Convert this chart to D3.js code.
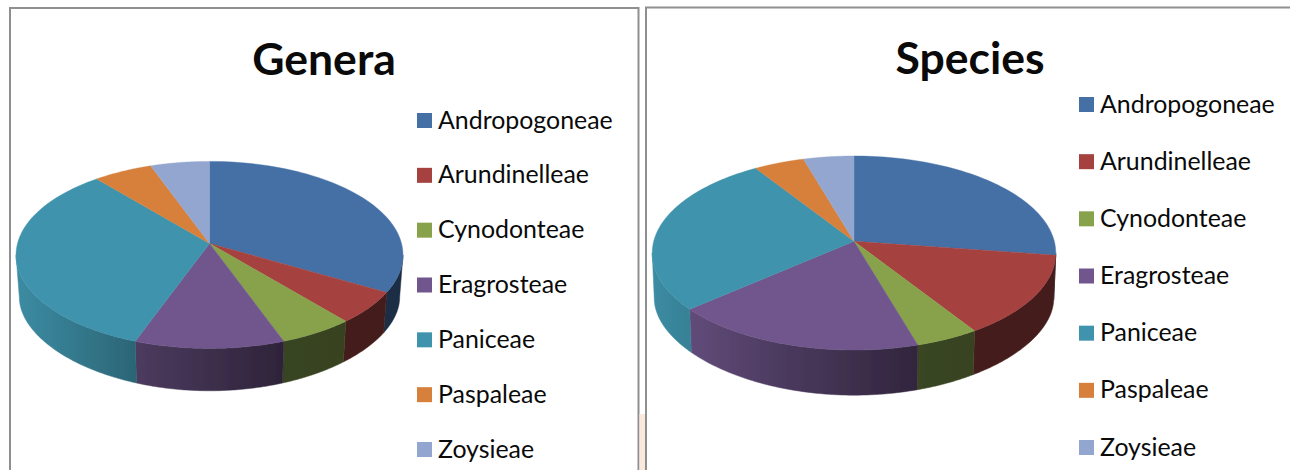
<!DOCTYPE html>
<html>
<head>
<meta charset="UTF-8">
<script src="https://d3js.org/d3.v7.min.js"></script>
<style>
    html, body { margin: 0; padding: 0; background: white; overflow: hidden; }
    svg { display: block; }
    text { font-family: Lato, "Open Sans", sans-serif; fill: #0a0a0a; }
</style>
</head>
<body>
<svg id="viz" width="1290" height="470"></svg>
<script>
    const tribes = ["Andropogoneae", "Arundinelleae", "Cynodonteae", "Eragrosteae", "Paniceae", "Paspaleae", "Zoysieae"];
    const genera = [6, 1, 1, 2, 6, 1, 1];
    const species = [6, 3, 1, 4, 6, 1, 1];
    const colors = ["#4470a6", "#a5423f", "#87a24b", "#70568c", "#3f93ac", "#d6803b", "#92a6cf"];

    const svg = d3.select("#viz");
    const defs = svg.append("defs");

    defs.append("filter").attr("id", "soft")
        .append("feGaussianBlur").attr("stdDeviation", 0.5);

    // side lighting goes from light on the left to dark on the right
    const shade = d3.scaleLinear().domain([0, 0.35, 0.68, 1]).range([0.95, 0.65, 0.42, 0.41]);

    function darker(col, f) {
        const c = d3.rgb(col);
        return d3.rgb(c.r * f, c.g * f, c.b * f).formatHex();
    }

    // frames
    svg.append("path").attr("d", "M10,470V8H638.5V470").attr("fill", "none").attr("stroke", "#8f8f8f").attr("stroke-width", 2);
    svg.append("path").attr("d", "M646,470V7.5H1290").attr("fill", "none").attr("stroke", "#8f8f8f").attr("stroke-width", 2);
    svg.append("rect").attr("x", 639.5).attr("y", 414).attr("width", 5.5).attr("height", 56).attr("fill", "#fbeadb");

    function drawPie(cfg) {
        const g = svg.append("g").attr("filter", "url(#soft)");
        const slices = d3.pie().sort(null).value(d => d)(cfg.values);

        // perspective map of the unit disc, apex of the pie at (cx, cy)
        function project(a, base) {
            const u = Math.sin(a), v = -Math.cos(a);
            const w = 1 - cfg.k * v;
            const X = cfg.a * u / w, Y = cfg.b * v / w;
            return base
                ? [cfg.cx + cfg.sx * X, cfg.cy + cfg.depth + cfg.baseB * v / (1 - 0.2 * v)]
                : [cfg.cx + X, cfg.cy + Y];
        }
        const samples = (a0, a1) => d3.range(0, 61).map(i => a0 + (a1 - a0) * i / 60);
        const line = d3.line();

        const rx = cfg.a / Math.sqrt(1 - cfg.k * cfg.k);
        const id = cfg.title;
        colors.forEach((col, i) => {
            const grad = defs.append("linearGradient").attr("id", id + i)
                .attr("gradientUnits", "userSpaceOnUse")
                .attr("x1", cfg.cx - rx).attr("x2", cfg.cx + rx).attr("y1", 0).attr("y2", 0);
            shade.domain().forEach(t => {
                grad.append("stop").attr("offset", t).attr("stop-color", darker(col, shade(t)));
            });
        });

        // rim, from the widest point on the right round to the widest on the left
        const frontStart = Math.acos(-cfg.k), frontEnd = 2 * Math.PI - frontStart;
        slices.forEach((s, i) => {
            const a0 = Math.max(s.startAngle, frontStart), a1 = Math.min(s.endAngle, frontEnd);
            if (a1 <= a0) return;
            const pts = samples(a0, a1);
            const poly = pts.map(a => project(a, false)).concat(pts.slice().reverse().map(a => project(a, true)));
            g.append("path").attr("d", line(poly) + "Z")
                .attr("fill", "url(#" + id + i + ")")
                .attr("stroke", "url(#" + id + i + ")").attr("stroke-width", 0.5);
        });

        // top face
        slices.forEach((s, i) => {
            const pts = samples(s.startAngle, s.endAngle).map(a => project(a, false));
            pts.unshift([cfg.cx, cfg.cy]);
            g.append("path").attr("d", line(pts) + "Z")
                .attr("fill", colors[i]).attr("stroke", colors[i]).attr("stroke-width", 0.4);
        });

        svg.append("text").attr("x", cfg.titleX).attr("y", cfg.titleY)
            .attr("text-anchor", "middle").attr("font-weight", "bold").attr("font-size", 44.5)
            .text(cfg.title);

        const legendY = d3.scalePoint().domain(tribes).range(cfg.legendRange);
        const items = svg.append("g").selectAll("g").data(tribes).enter().append("g")
            .attr("transform", d => "translate(" + cfg.legendX + "," + legendY(d) + ")");
        items.append("rect").attr("x", 0).attr("y", -7.5).attr("width", 15).attr("height", 15)
            .attr("fill", (d, i) => colors[i]);
        items.append("text").attr("x", 21).attr("y", 8).attr("font-size", 24.9).text(d => d);
    }

    drawPie({
        title: "Genera", values: genera, cx: 209.5, cy: 243.4, a: 192, b: 92.1, k: 0.123,
        sx: 0.983, baseB: 83.5, depth: 43,
        titleX: 324, titleY: 75, legendX: 417, legendRange: [120.5, 449.5]
    });
    drawPie({
        title: "Species", values: species, cx: 854, cy: 241.3, a: 200.3, b: 95.6, k: 0.1206,
        sx: 0.99, baseB: 86.2, depth: 46.1,
        titleX: 970, titleY: 74, legendX: 1079, legendRange: [104.5, 447.5]
    });
</script>
</body>
</html>
